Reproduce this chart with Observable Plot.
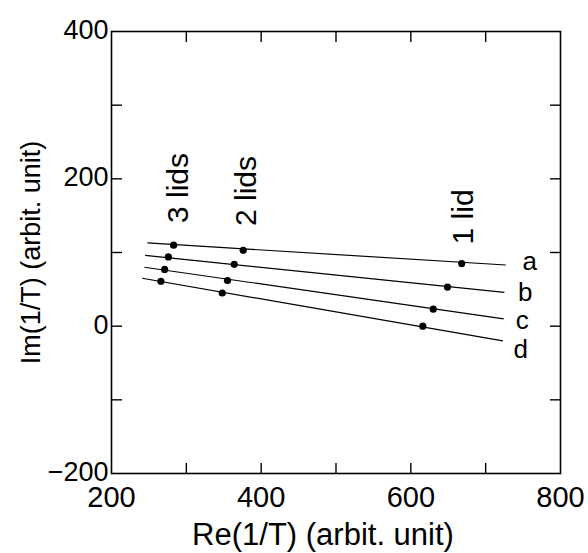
<!DOCTYPE html>
<html>
<head>
<meta charset="utf-8">
<script src="https://cdn.jsdelivr.net/npm/d3@7"></script>
<script src="https://cdn.jsdelivr.net/npm/@observablehq/plot@0.6"></script>
<style>
  html, body { margin: 0; padding: 0; background: #fff; }
  #chart svg { display: block; }
</style>
</head>
<body>
<div id="chart"></div>
<script>
// Series names
const series = ["a", "b", "c", "d"];
// Measured points (Re, Im) for 3 lids, 2 lids, 1 lid
const re3lids = [283, 276, 271, 266];
const im3lids = [110, 94, 77, 61];
const re2lids = [376, 364, 355, 348];
const im2lids = [103, 84, 62, 45];
const re1lid = [668, 649, 630, 616];
const im1lid = [85, 53, 23, 0];
// Fitted straight lines: start and end points
const lineStartRe = [248, 245, 244, 241];
const lineStartIm = [113, 96, 80, 65];
const lineEndRe = [727, 725, 724, 723];
const lineEndIm = [83, 46, 10, -20];
// Series letter label positions
const seriesLabelRe = [759, 753, 749, 747];
const seriesLabelIm = [88, 45, 7, -32];
// Lid annotations
const lidLabels = ["3 lids", "2 lids", "1 lid"];
const lidLabelRe = [289, 380, 670];
const lidLabelIm = [140, 136, 111];
// Axis ticks and titles
const xTickLabels = [200, 400, 600, 800];
const xMinorTicks = [300, 400, 500, 600, 700];
const yTickLabels = [-200, 0, 200, 400];
const yMinorTicks = [-100, 0, 100, 200, 300];
const xTitle = "Re(1/T) (arbit. unit)";
const yTitle = "Im(1/T) (arbit. unit)";

const points = series.flatMap((s, i) => [
  {s, re: re3lids[i], im: im3lids[i]},
  {s, re: re2lids[i], im: im2lids[i]},
  {s, re: re1lid[i], im: im1lid[i]}
]);
const lines = series.map((s, i) => ({s, x1: lineStartRe[i], y1: lineStartIm[i], x2: lineEndRe[i], y2: lineEndIm[i]}));
const sLabels = series.map((s, i) => ({s, x: seriesLabelRe[i], y: seriesLabelIm[i]}));
const lLabels = lidLabels.map((t, i) => ({t, x: lidLabelRe[i], y: lidLabelIm[i]}));

const font = "Liberation Sans, Arial, Helvetica, sans-serif";

const chart = Plot.plot({
  width: 588,
  height: 553,
  marginTop: 31,
  marginRight: 28,
  marginBottom: 80,
  marginLeft: 111,
  style: {fontFamily: font, fontSize: "28px", color: "black", background: "white"},
  x: {domain: [200, 800]},
  y: {domain: [-200, 400]},
  marks: [
    Plot.frame({stroke: "black", strokeWidth: 1.6}),
    // inward ticks
    Plot.axisX({anchor: "bottom", ticks: xMinorTicks, tickSize: -10, text: null, label: null, strokeWidth: 1.4}),
    Plot.axisX({anchor: "top", ticks: xMinorTicks, tickSize: -10, text: null, label: null, strokeWidth: 1.4}),
    Plot.axisY({anchor: "left", ticks: yMinorTicks, tickSize: -11, text: null, label: null, strokeWidth: 1.4}),
    Plot.axisY({anchor: "right", ticks: yMinorTicks, tickSize: -11, text: null, label: null, strokeWidth: 1.4}),
    // tick labels
    Plot.axisX({anchor: "bottom", ticks: xTickLabels, tickSize: 0, tickPadding: 13, fontSize: 29, label: null}),
    Plot.axisY({anchor: "left", ticks: yTickLabels, tickSize: 0, tickPadding: 3, fontSize: 27, dy: -1,
      label: yTitle, labelAnchor: "center", labelArrow: "none", labelOffset: 91}),
    // x title
    Plot.text([xTitle], {frameAnchor: "bottom", text: d => d, fontSize: 31, dx: -13, dy: 71, lineAnchor: "bottom", fill: "black"}),
    Plot.link(lines, {x1: "x1", y1: "y1", x2: "x2", y2: "y2", stroke: "black", strokeWidth: 1.2}),
    Plot.dot(points, {x: "re", y: "im", r: 3.6, fill: "black", stroke: "none"}),
    Plot.text(sLabels, {x: "x", y: "y", text: "s", fontSize: 26, fill: "black", lineAnchor: "middle"}),
    Plot.text(lLabels, {x: "x", y: "y", text: "t", fontSize: 30, fill: "black", rotate: -90, textAnchor: "start", lineAnchor: "middle"})
  ]
});
document.getElementById("chart").appendChild(chart);
</script>
</body>
</html>
